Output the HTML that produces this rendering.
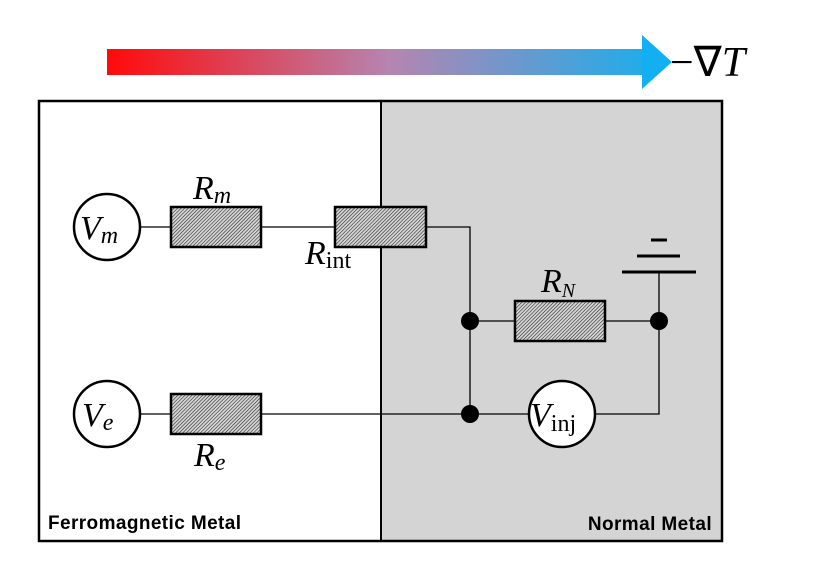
<!DOCTYPE html>
<html><head><style>html,body{margin:0;padding:0;background:#fff}</style></head><body>
<svg width="817" height="580" viewBox="0 0 817 580" xmlns="http://www.w3.org/2000/svg">
<defs>
<linearGradient id="g" x1="107" x2="672" gradientUnits="userSpaceOnUse">
<stop offset="0" stop-color="#ff0a0a"/><stop offset="0.5" stop-color="#b585b0"/><stop offset="1" stop-color="#12b0f0"/></linearGradient>
<pattern id="h" width="2.5" height="2.5" patternUnits="userSpaceOnUse" patternTransform="rotate(45)">
<rect width="2.5" height="2.5" fill="#d8d8d8"/><line x1="0" y1="0" x2="0" y2="2.5" stroke="#222" stroke-width="1.2"/></pattern>
</defs>
<rect x="107" y="49" width="537" height="26" fill="url(#g)"/>
<polygon points="642,35 672,62 642,89" fill="#12b0f0"/>
<text x="670" y="76" font-family="Liberation Serif, serif" font-size="42">−∇<tspan font-style="italic">T</tspan></text>
<rect x="381" y="101" width="341" height="440" fill="#d4d4d4"/>
<rect x="39" y="101" width="683" height="440" fill="none" stroke="#000" stroke-width="2.5"/>
<line x1="381" y1="101" x2="381" y2="541" stroke="#000" stroke-width="2"/>
<g stroke="#000" stroke-width="1.3" fill="none">
<path d="M140 227H171M261 227H335M426 227H470V414M140 414H171M261 414H529M595 414H659V272M470 321H515M605 321H659"/>
</g>
<g stroke="#000" stroke-width="3">
<line x1="622" y1="272" x2="696" y2="272"/><line x1="637" y1="256" x2="680" y2="256"/><line x1="651" y1="240" x2="667" y2="240"/>
</g>
<g fill="url(#h)" stroke="#000" stroke-width="2.5">
<rect x="171" y="207" width="90" height="40"/><rect x="335" y="207" width="91" height="40"/>
<rect x="515" y="301" width="90" height="40"/><rect x="171" y="394" width="90" height="40"/>
</g>
<g fill="#000"><circle cx="470" cy="321" r="9"/><circle cx="470" cy="414" r="9"/><circle cx="659" cy="321" r="9"/></g>
<g fill="#fff" stroke="#000" stroke-width="2.5">
<circle cx="107" cy="227" r="33"/><circle cx="107" cy="414" r="33"/><circle cx="562" cy="414" r="33"/>
</g>
<g font-family="Liberation Serif, serif" font-size="34">
<text x="80" y="239" font-style="italic">V<tspan font-size="24" dy="4">m</tspan></text>
<text x="82" y="426" font-style="italic">V<tspan font-size="24" dy="4">e</tspan></text>
<text x="530" y="426" font-style="italic">V<tspan font-size="24" dy="5" font-style="normal">inj</tspan></text>
<text x="193" y="199" font-style="italic">R<tspan font-size="24" dy="4">m</tspan></text>
<text x="305" y="264" font-style="italic">R<tspan font-size="24" dy="4" font-style="normal">int</tspan></text>
<text x="541" y="292" font-style="italic">R<tspan font-size="20" dy="5">N</tspan></text>
<text x="194" y="466" font-style="italic">R<tspan font-size="24" dy="4">e</tspan></text>
</g>
<g font-family="Liberation Sans, sans-serif" font-size="19" font-weight="bold" letter-spacing="0.4">
<text x="48" y="529">Ferromagnetic Metal</text>
<text x="712" y="530" text-anchor="end">Normal Metal</text>
</g>
</svg>
</body></html>
